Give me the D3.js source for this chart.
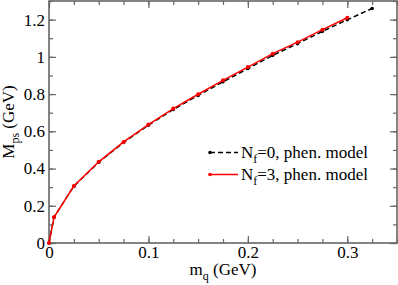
<!DOCTYPE html>
<html lang="en">
<head>
  <meta charset="UTF-8">
  <title>Mps vs mq</title>
  <script src="https://d3js.org/d3.v7.min.js"></script>
  <style>
    body { margin: 0; background: #fff; }
  </style>
</head>
<body>
  <div id="chart"></div>
  <script>
    const FONT = '"Liberation Serif", "Times New Roman", "DejaVu Serif", serif';

    // quark masses (GeV) and pseudoscalar masses (GeV)
    const mqNf0 = [0, 0.005, 0.025, 0.05, 0.075, 0.1, 0.125, 0.15, 0.175, 0.2, 0.225, 0.25, 0.275, 0.3, 0.325];
    const mpsNf0 = [0, 0.138, 0.305, 0.434, 0.540, 0.633, 0.717, 0.793, 0.866, 0.937, 1.008, 1.071, 1.137, 1.199, 1.26];
    const mqNf3 = [0, 0.005, 0.025, 0.05, 0.075, 0.1, 0.125, 0.15, 0.175, 0.2, 0.225, 0.25, 0.275, 0.3];
    const mpsNf3 = [0, 0.138, 0.306, 0.436, 0.543, 0.636, 0.722, 0.799, 0.874, 0.945, 1.017, 1.079, 1.146, 1.21];

    const xTicks = [0, 0.1, 0.2, 0.3];
    const yTicks = [0, 0.2, 0.4, 0.6, 0.8, 1, 1.2];

    const W = 398, H = 285;
    const margin = { top: 1, right: 1, bottom: 42, left: 49 };
    const width = W - margin.left - margin.right;
    const height = H - margin.top - margin.bottom;

    const svg = d3.select("#chart").append("svg")
      .attr("width", W).attr("height", H);
    const g = svg.append("g")
      .attr("transform", `translate(${margin.left},${margin.top})`);

    const x = d3.scaleLinear().domain([0, 0.35]).range([0, width]);
    const y = d3.scaleLinear().domain([0, 1.3]).range([height, 0]);

    const frameColor = "#666";
    const xMinor = d3.range(0, 0.3501, 0.025);
    const yMinor = d3.range(0, 1.301, 0.1);

    // inward ticks on all four sides
    const tickLayers = [
      [d3.axisTop, x, `translate(0,${height})`, xMinor, 4],
      [d3.axisTop, x, `translate(0,${height})`, xTicks, 7],
      [d3.axisBottom, x, `translate(0,0)`, xMinor, 4],
      [d3.axisBottom, x, `translate(0,0)`, xTicks, 7],
      [d3.axisRight, y, `translate(0,0)`, yMinor, 4],
      [d3.axisRight, y, `translate(0,0)`, yTicks, 7],
      [d3.axisLeft, y, `translate(${width},0)`, yMinor, 4],
      [d3.axisLeft, y, `translate(${width},0)`, yTicks, 7]
    ];
    tickLayers.forEach(([ax, sc, tr, vals, sz]) => {
      const t = g.append("g").attr("transform", tr)
        .call(ax(sc).tickValues(vals).tickSize(sz).tickFormat(""));
      t.select(".domain").remove();
      t.selectAll("line").attr("stroke", frameColor).attr("stroke-width", 1.2);
    });

    // tick labels
    const xAxis = g.append("g").attr("transform", `translate(0,${height})`)
      .call(d3.axisBottom(x).tickValues(xTicks).tickSize(0).tickPadding(3).tickFormat(d3.format("")));
    xAxis.select(".domain").remove();
    xAxis.selectAll("text").style("font-size", "17px").style("font-family", FONT).attr("fill", "#000");

    const yAxis = g.append("g")
      .call(d3.axisLeft(y).tickValues(yTicks).tickSize(0).tickPadding(4).tickFormat(d3.format("")));
    yAxis.select(".domain").remove();
    yAxis.selectAll("text").style("font-size", "17px").style("font-family", FONT).attr("fill", "#000");

    // frame
    g.append("rect").attr("x", 0).attr("y", 0)
      .attr("width", width).attr("height", height)
      .attr("fill", "none").attr("stroke", frameColor).attr("stroke-width", 1.6);

    const line = d3.line().x(d => x(d[0])).y(d => y(d[1]));
    const nf0 = mqNf0.map((v, i) => [v, mpsNf0[i]]);
    const nf3 = mqNf3.map((v, i) => [v, mpsNf3[i]]);

    g.append("path").datum(nf0).attr("d", line)
      .attr("fill", "none").attr("stroke", "#000").attr("stroke-width", 1.5)
      .attr("stroke-dasharray", "5,3");
    g.selectAll(".dot0").data(nf0).enter().append("circle")
      .attr("cx", d => x(d[0])).attr("cy", d => y(d[1])).attr("r", 1.8).attr("fill", "#000");

    g.append("path").datum(nf3).attr("d", line)
      .attr("fill", "none").attr("stroke", "#f00").attr("stroke-width", 1.5);
    g.selectAll(".dot3").data(nf3).enter().append("circle")
      .attr("cx", d => x(d[0])).attr("cy", d => y(d[1])).attr("r", 2).attr("fill", "#f00");

    // axis titles
    const xt = svg.append("text").attr("x", 223).attr("y", 275)
      .attr("text-anchor", "middle").style("font-size", "17px").style("font-family", FONT);
    xt.append("tspan").text("m");
    xt.append("tspan").style("font-size", "12px").attr("dy", 5).text("q");
    xt.append("tspan").attr("dy", -5).text(" (GeV)");

    const yt = svg.append("text").attr("transform", "translate(14,122) rotate(-90)")
      .attr("text-anchor", "middle").style("font-size", "17px").style("font-family", FONT);
    yt.append("tspan").text("M");
    yt.append("tspan").style("font-size", "12px").attr("dy", 5).text("ps");
    yt.append("tspan").attr("dy", -5).text(" (GeV)");

    // legend
    const legendN = ["0", "3"];
    const legendColor = ["#000", "#f00"];
    const legendDash = ["5,3", null];
    const legendY = [152.5, 174.5];
    legendN.forEach((n, i) => {
      const ly = legendY[i];
      svg.append("line").attr("x1", 210).attr("x2", 238).attr("y1", ly).attr("y2", ly)
        .attr("stroke", legendColor[i]).attr("stroke-width", 1.5)
        .attr("stroke-dasharray", legendDash[i]);
      svg.append("circle").attr("cx", 210).attr("cy", ly).attr("r", 1.8).attr("fill", legendColor[i]);
      const t = svg.append("text").attr("x", 241).attr("y", ly + 5)
        .style("font-size", "17px").style("font-family", FONT);
      t.append("tspan").text("N");
      t.append("tspan").style("font-size", "12px").attr("dy", 5).text("f");
      t.append("tspan").attr("dy", -5).text("=" + n + ", phen. model");
    });
  </script>
</body>
</html>
